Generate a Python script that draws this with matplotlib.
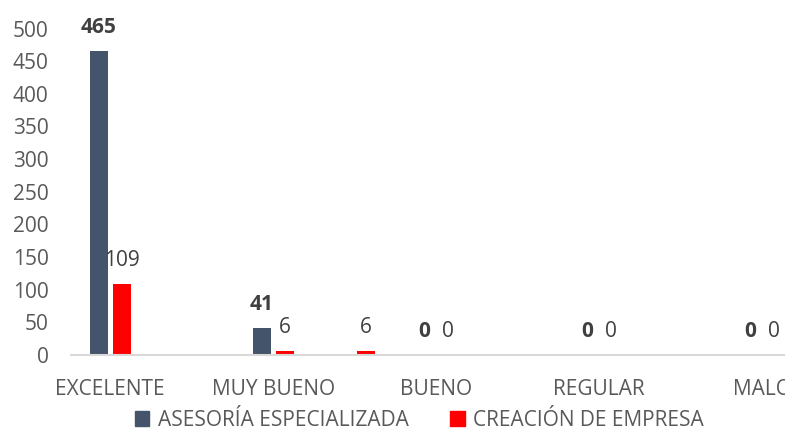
import matplotlib
matplotlib.use("Agg")
import matplotlib.pyplot as plt
from matplotlib.patches import Patch
import numpy as np

plt.rcParams['font.family'] = ['Open Sans', 'DejaVu Sans']

categories = ["EXCELENTE", "MUY BUENO", "BUENO", "REGULAR", "MALO"]
asesoria = [465, 41, 0, 0, 0]
creacion = [109, 6, 0, 0, 0]
# stray extra bar of the red series, drawn between MUY BUENO and BUENO
creacion_extra_pos = 1.567
creacion_extra_val = 6

series_names = ["ASESORÍA ESPECIALIZADA", "CREACIÓN DE EMPRESA"]
c_dark = "#44546A"
c_red = "#FF0000"
txt = "#595959"
lbl = "#404040"

fig = plt.figure(figsize=(7.85, 4.33), dpi=100)
ax = fig.add_axes([0.0904, 0.1801, 0.9096, 0.754])

x = np.arange(len(categories))
w = 0.11
off = 0.0706
ax.bar(x - off, asesoria, width=w, color=c_dark)
ax.bar(x + off, creacion, width=w, color=c_red)
ax.bar([creacion_extra_pos], [creacion_extra_val], width=w, color=c_red)

for xi, v in zip(x - off, asesoria):
    ax.annotate(str(v), (xi, v), xytext=(0, 13), textcoords="offset points",
                ha="center", va="baseline", fontsize=15, fontweight="bold",
                color=lbl, annotation_clip=False)
for xi, v in list(zip(x + off, creacion)) + [(creacion_extra_pos, creacion_extra_val)]:
    ax.annotate(str(v), (xi, v), xytext=(0, 13), textcoords="offset points",
                ha="center", va="baseline", fontsize=15, color=lbl,
                annotation_clip=False)

ax.set_xlim(-0.24, 4.14)
ax.set_ylim(0, 500)
ax.set_yticks(np.arange(0, 501, 50))
ax.set_xticks(x)
ax.set_xticklabels(categories)
ax.tick_params(axis="both", length=0, labelsize=15, labelcolor=txt)
ax.tick_params(axis="y", pad=16)
ax.tick_params(axis="x", pad=17)
for s in ["top", "right", "left"]:
    ax.spines[s].set_visible(False)
ax.spines["bottom"].set_color("#D9D9D9")
ax.spines["bottom"].set_linewidth(1.5)

handles = [Patch(color=c_dark), Patch(color=c_red)]
fig.legend(handles, series_names, loc="center", bbox_to_anchor=(0.534, 0.03),
           ncol=2, frameon=False, fontsize=15, labelcolor=txt,
           borderpad=0.2, handlelength=0.7, handleheight=0.7, handletextpad=0.4,
           columnspacing=2.0)

fig.savefig("out.png", dpi=100)
